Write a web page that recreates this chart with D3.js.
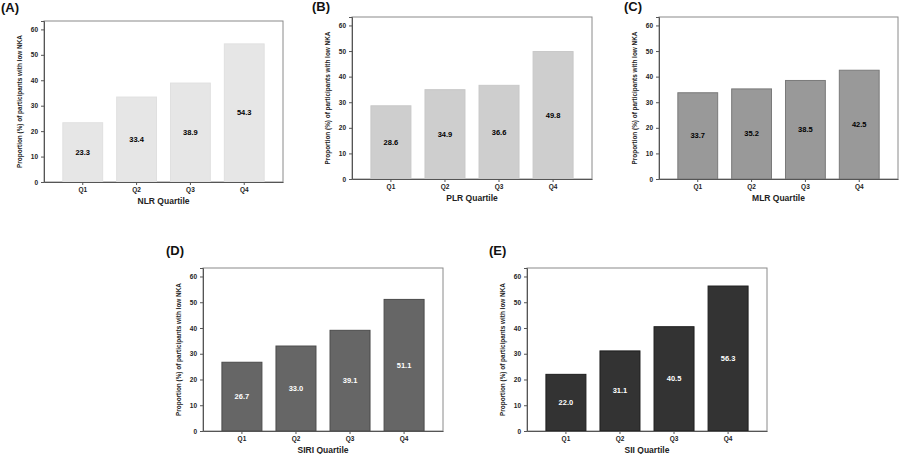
<!DOCTYPE html>
<html lang="en">
<head>
<meta charset="UTF-8">
<title>Low NKA by quartile</title>
<script src="https://d3js.org/d3.v7.min.js"></script>
<style>
  body { margin: 0; background: #fff; }
  text { font-family: Arial, "Liberation Sans", sans-serif; }
</style>
</head>
<body>
<svg width="900" height="454"></svg>
<script>
const quartiles = ['Q1', 'Q2', 'Q3', 'Q4'];
const yTicks = [0, 10, 20, 30, 40, 50, 60];
const panelLetters = ['(A)', '(B)', '(C)', '(D)', '(E)'];
const axisTitles = ['NLR Quartile', 'PLR Quartile', 'MLR Quartile', 'SIRI Quartile', 'SII Quartile'];
const nlr = [23.3, 33.4, 38.9, 54.3];
const plr = [28.6, 34.9, 36.6, 49.8];
const mlr = [33.7, 35.2, 38.5, 42.5];
const siri = [26.7, 33.0, 39.1, 51.1];
const sii = [22.0, 31.1, 40.5, 56.3];
const series = [nlr, plr, mlr, siri, sii];

// frame boxes and styles per panel
const boxes = [
  { l: 44, t: 21, r: 283, b: 182, lx: 1, ly: 12 },
  { l: 352, t: 17, r: 592, b: 179, lx: 312, ly: 11 },
  { l: 659, t: 17, r: 898, b: 179, lx: 624, ly: 11 },
  { l: 203, t: 268, r: 443, b: 431, lx: 166, ly: 255 },
  { l: 527, t: 268, r: 767, b: 431, lx: 489, ly: 255 }
];
const fills = ['#e6e6e6', '#cecece', '#999999', '#666666', '#333333'];
const strokes = ['#e0e0e0', '#c8c8c8', '#7a7a7a', '#4a4a4a', '#1e1e1e'];
const labelColors = ['#000', '#000', '#000', '#fff', '#fff'];

const svg = d3.select('svg');

series.forEach((vals, i) => {
  const bx = boxes[i];
  const g = svg.append('g');

  const x = d3.scaleBand().domain(quartiles).range([bx.l, bx.r])
    .paddingInner(0.26).paddingOuter(0.35);
  const y = d3.scaleLinear().domain([0, 63.3]).range([bx.b, bx.t]);

  // frame
  g.append('rect')
    .attr('x', bx.l).attr('y', bx.t)
    .attr('width', bx.r - bx.l).attr('height', bx.b - bx.t)
    .attr('fill', 'none').attr('stroke', '#8a8a8a').attr('stroke-width', 1);

  g.selectAll('rect.bar')
    .data(vals)
    .join('rect')
    .attr('class', 'bar')
    .attr('x', (d, j) => x(quartiles[j]))
    .attr('y', d => y(d))
    .attr('width', x.bandwidth())
    .attr('height', d => y(0) - y(d))
    .attr('fill', fills[i])
    .attr('stroke', strokes[i])
    .attr('stroke-width', 1);

  g.selectAll('text.val')
    .data(vals)
    .join('text')
    .attr('class', 'val')
    .attr('x', (d, j) => x(quartiles[j]) + x.bandwidth() / 2)
    .attr('y', d => y(d / 2) + 2.5)
    .attr('text-anchor', 'middle')
    .attr('font-size', 7.5)
    .attr('font-weight', 600)
    .attr('fill', labelColors[i])
    .text(d => d.toFixed(1));

  // y axis
  const ya = g.append('g')
    .attr('transform', `translate(${bx.l},0)`)
    .call(d3.axisLeft(y).tickValues(yTicks).tickSize(3).tickPadding(3));
  ya.select('.domain').attr('stroke', '#555');
  ya.selectAll('line').attr('stroke', '#555');
  ya.selectAll('text').attr('font-size', 6.5).attr('font-weight', 'bold').attr('fill', '#222');

  // x axis
  const xa = g.append('g')
    .attr('transform', `translate(0,${bx.b})`)
    .call(d3.axisBottom(x).tickSize(3).tickPadding(2).tickSizeOuter(0));
  xa.select('.domain').attr('stroke', '#555');
  xa.selectAll('line').attr('stroke', '#555');
  xa.selectAll('text').attr('font-size', 6.5).attr('font-weight', 'bold').attr('fill', '#222');

  g.append('text')
    .attr('x', (bx.l + bx.r) / 2)
    .attr('y', bx.b + 22)
    .attr('text-anchor', 'middle')
    .attr('font-size', 8.5)
    .attr('font-weight', 'bold')
    .attr('fill', '#222')
    .text(axisTitles[i]);

  g.append('text')
    .attr('transform', `translate(${bx.l - 22},${(bx.t + bx.b) / 2}) rotate(-90)`)
    .attr('text-anchor', 'middle')
    .attr('font-size', 6.4)
    .attr('font-weight', 600)
    .attr('fill', '#222')
    .text('Proportion (%) of participants with low NKA');

  g.append('text')
    .attr('x', bx.lx)
    .attr('y', bx.ly)
    .attr('font-size', 13)
    .attr('font-weight', 'bold')
    .attr('fill', '#111')
    .text(panelLetters[i]);
});
</script>
</body>
</html>
